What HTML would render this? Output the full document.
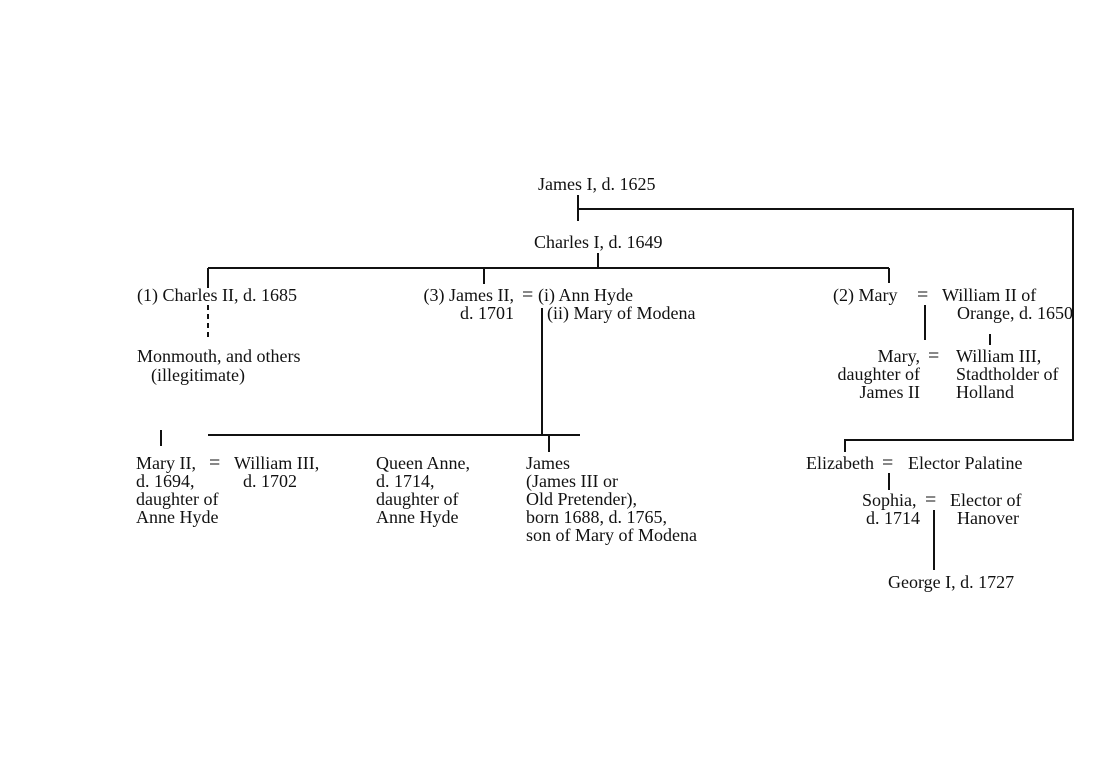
<!DOCTYPE html>
<html><head><meta charset="utf-8"><style>
body{margin:0;background:#fff}
svg text{font-family:"Liberation Serif",serif;font-size:18px;fill:#111}
svg text.eq{font-size:20px}
</style></head><body>
<svg width="1093" height="768" xmlns="http://www.w3.org/2000/svg">
<g stroke="#111" stroke-width="2" fill="none">
<path d="M578 195V221M578 209H1073V440H845V452"/>
<path d="M598 253V268M208 268H889M484 268V284M889 268V283M208 268V288"/>
<path d="M208 305V340" stroke-dasharray="5,4"/>
<path d="M542 308V435M208 435H580M549 435V452M161 430V446"/>
<path d="M925 305V340M990 334V345"/>
<path d="M889 473V490M934 510V570"/>
</g>
<text x="538" y="190">James I, d. 1625</text>
<text x="534" y="248">Charles I, d. 1649</text>
<text x="137" y="301">(1) Charles II, d. 1685</text>
<text x="137" y="362">Monmouth, and others</text>
<text x="151" y="381">(illegitimate)</text>
<text x="514" y="301" text-anchor="end">(3) James II,</text>
<text x="514" y="319" text-anchor="end">d. 1701</text>
<text class="eq" x="522" y="301">=</text>
<text x="538" y="301">(i) Ann Hyde</text>
<text x="547" y="319">(ii) Mary of Modena</text>
<text x="833" y="301">(2) Mary</text>
<text class="eq" x="917" y="301">=</text>
<text x="942" y="301">William II of</text>
<text x="957" y="319">Orange, d. 1650</text>
<text x="920" y="362" text-anchor="end">Mary,</text>
<text x="920" y="380" text-anchor="end">daughter of</text>
<text x="920" y="398" text-anchor="end">James II</text>
<text class="eq" x="928" y="362">=</text>
<text x="956" y="362">William III,</text>
<text x="956" y="380">Stadtholder of</text>
<text x="956" y="398">Holland</text>
<text x="136" y="469">Mary II,</text>
<text x="136" y="487">d. 1694,</text>
<text x="136" y="505">daughter of</text>
<text x="136" y="523">Anne Hyde</text>
<text class="eq" x="209" y="469">=</text>
<text x="234" y="469">William III,</text>
<text x="243" y="487">d. 1702</text>
<text x="376" y="469">Queen Anne,</text>
<text x="376" y="487">d. 1714,</text>
<text x="376" y="505">daughter of</text>
<text x="376" y="523">Anne Hyde</text>
<text x="526" y="469">James</text>
<text x="526" y="487">(James III or</text>
<text x="526" y="505">Old Pretender),</text>
<text x="526" y="523">born 1688, d. 1765,</text>
<text x="526" y="541">son of Mary of Modena</text>
<text x="806" y="469">Elizabeth</text>
<text class="eq" x="882" y="469">=</text>
<text x="908" y="469">Elector Palatine</text>
<text x="862" y="506">Sophia,</text>
<text x="866" y="524">d. 1714</text>
<text class="eq" x="925" y="506">=</text>
<text x="950" y="506">Elector of</text>
<text x="957" y="524">Hanover</text>
<text x="888" y="588">George I, d. 1727</text>
</svg>
</body></html>
